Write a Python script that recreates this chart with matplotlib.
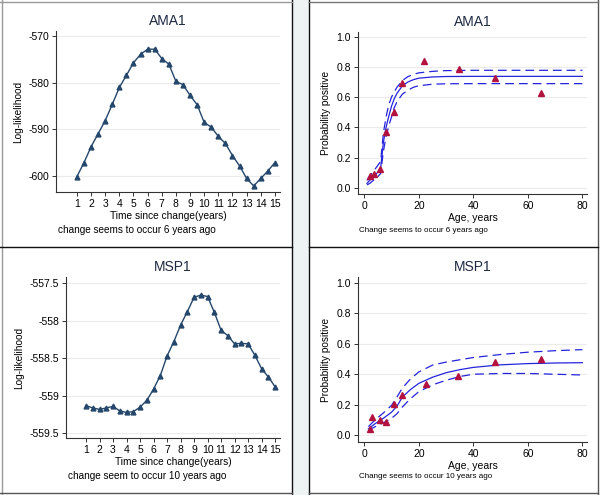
import matplotlib
matplotlib.use("Agg")
from matplotlib import pyplot as plt
from matplotlib.lines import Line2D
from matplotlib.patches import Rectangle

plt.rcParams['font.family'] = ['Liberation Sans', 'DejaVu Sans']

# profile log-likelihood by time since change
years = [1, 1.5, 2, 2.5, 3, 3.5, 4, 4.5, 5, 5.5, 6, 6.5, 7, 7.5, 8, 8.5, 9, 9.5,
         10, 10.5, 11, 11.5, 12, 12.5, 13, 13.5, 14, 14.5, 15]
ll_ama1 = [-600.1, -597.1, -593.7, -590.9, -588.1, -584.6, -581.0, -578.4, -575.7,
           -573.9, -572.8, -572.8, -574.8, -576.0, -579.7, -580.4, -582.7, -584.7,
           -588.5, -589.5, -591.5, -593.0, -595.6, -597.8, -600.5, -602.1, -600.5,
           -598.9, -597.1]
ll_msp1 = [-559.13, -559.16, -559.18, -559.16, -559.14, -559.20, -559.22, -559.21,
           -559.15, -559.06, -558.91, -558.73, -558.47, -558.28, -558.06, -557.88,
           -557.69, -557.66, -557.68, -557.89, -558.13, -558.20, -558.31, -558.30,
           -558.31, -558.46, -558.64, -558.75, -558.88]

# observed seroprevalence by age group
ama1_age = [2.0, 3.4, 5.9, 8.0, 11.0, 13.8, 21.9, 34.9, 47.8, 64.7]
ama1_prev = [0.077, 0.092, 0.127, 0.372, 0.50, 0.694, 0.838, 0.788, 0.726, 0.624]
msp1_age = [2.0, 2.9, 5.8, 8.0, 11.0, 13.8, 22.8, 34.4, 48.0, 64.7]
msp1_prev = [0.037, 0.119, 0.099, 0.088, 0.202, 0.262, 0.334, 0.391, 0.479, 0.503]

# fitted curves with confidence bands
ama1_fit_age = [1, 2, 3, 4, 5, 6, 7, 8, 9, 10, 11, 12, 14, 16, 18, 20, 25, 30, 40, 60, 80]
ama1_fit = [0.03, 0.05, 0.065, 0.085, 0.105, 0.13, 0.30, 0.40, 0.475, 0.54, 0.59,
            0.625, 0.675, 0.70, 0.715, 0.725, 0.733, 0.736, 0.737, 0.737, 0.737]
ama1_hi = [0.05, 0.08, 0.10, 0.125, 0.15, 0.175, 0.36, 0.47, 0.55, 0.60, 0.635,
           0.665, 0.71, 0.735, 0.75, 0.76, 0.77, 0.775, 0.777, 0.777, 0.777]
ama1_lo = [0.02, 0.03, 0.045, 0.06, 0.075, 0.095, 0.24, 0.34, 0.41, 0.47, 0.53,
           0.57, 0.62, 0.645, 0.665, 0.675, 0.685, 0.688, 0.689, 0.689, 0.689]

msp1_fit_age = [1.5, 4, 7, 10, 12, 14, 17, 20, 25, 30, 35, 40, 50, 60, 70, 80]
msp1_fit = [0.04, 0.075, 0.11, 0.15, 0.19, 0.25, 0.30, 0.34, 0.38, 0.41, 0.43,
            0.445, 0.462, 0.47, 0.474, 0.476]
msp1_hi = [0.055, 0.10, 0.145, 0.195, 0.25, 0.31, 0.37, 0.415, 0.46, 0.48, 0.495,
           0.51, 0.53, 0.545, 0.555, 0.562]
msp1_lo = [0.03, 0.055, 0.08, 0.11, 0.14, 0.185, 0.24, 0.285, 0.33, 0.36, 0.385,
           0.40, 0.405, 0.405, 0.40, 0.395]

W, H = 600, 495
navy = '#24476b'
red = '#b3123f'
blue = '#2424dd'
grid = '#ebebeb'

fig = plt.figure(figsize=(6, 4.95), dpi=100)


def box(l, t, r, b):
    # axes rectangle from pixel edges
    return [l / W, 1 - b / H, (r - l) / W, (b - t) / H]


def caption(x, y, s, size):
    fig.text(x / W, 1 - y / H, s, fontsize=size, va='center', ha='left')


def style(ax):
    for s in ['top', 'right']:
        ax.spines[s].set_visible(False)
    for s in ['left', 'bottom']:
        ax.spines[s].set_linewidth(0.8)
        ax.spines[s].set_color('#333333')
    ax.tick_params(length=3, width=0.7, color='#333333', labelsize=7.5, pad=2)
    ax.grid(axis='y', color=grid, linewidth=0.8)
    ax.set_axisbelow(True)


def ll_panel(pos, y, title, yt, ytl, ylim):
    ax = fig.add_axes(pos)
    style(ax)
    ax.plot(years, y, color=navy, lw=1.0, marker='^', ms=3.5)
    ax.set_xticks(range(1, 16))
    ax.set_yticks(yt)
    ax.set_yticklabels(ytl)
    ax.set_xlim(-0.48, 15.36)
    ax.set_ylim(*ylim)
    ax.set_title(title, fontsize=10, color='#1e2a44', pad=4)
    ax.set_ylabel('Log-likelihood', fontsize=7.3, labelpad=4)
    ax.set_xlabel('Time since change(years)', fontsize=7.3, labelpad=1.5)
    return ax


def prev_panel(pos, fa, f, hi, lo, pa, pv, title, ylim):
    ax = fig.add_axes(pos)
    style(ax)
    ax.plot(fa, f, color=blue, lw=0.9)
    ax.plot(fa, hi, color=blue, lw=0.9, dashes=(7, 4))
    ax.plot(fa, lo, color=blue, lw=0.9, dashes=(7, 4))
    ax.plot(pa, pv, linestyle='none', marker='^', ms=5, color=red)
    ax.set_xticks([0, 20, 40, 60, 80])
    ax.set_yticks([0, 0.2, 0.4, 0.6, 0.8, 1.0])
    ax.set_yticklabels(['0.0', '0.2', '0.4', '0.6', '0.8', '1.0'])
    ax.set_xlim(-2.3, 81.7)
    ax.set_ylim(*ylim)
    ax.set_title(title, fontsize=10, color='#1e2a44', pad=4)
    ax.set_ylabel('Probability positive', fontsize=7.3, labelpad=4)
    ax.set_xlabel('Age, years', fontsize=7.5, labelpad=1.5)
    return ax


ll_panel(box(56, 31, 280, 192), ll_ama1, 'AMA1',
         [-570, -580, -590, -600], ['-570', '-580', '-590', '-600'],
         (-603.4, -568.9))
ll_panel(box(66, 277, 280, 438), ll_msp1, 'MSP1',
         [-557.5, -558, -558.5, -559, -559.5],
         ['-557.5', '-558', '-558.5', '-559', '-559.5'],
         (-559.56, -557.42))
prev_panel(box(358, 32, 587, 194), ama1_fit_age, ama1_fit, ama1_hi, ama1_lo,
           ama1_age, ama1_prev, 'AMA1', (-0.04, 1.03))
prev_panel(box(358, 277, 587, 442), msp1_fit_age, msp1_fit, msp1_hi, msp1_lo,
           msp1_age, msp1_prev, 'MSP1', (-0.046, 1.04))

caption(58, 230, 'change seems to occur 6 years ago', 7.2)
caption(68, 476, 'change seem to occur 10 years ago', 7.2)
caption(359, 230, 'Change seems to occur 6 years ago', 5.8)
caption(359, 477, 'Change seems to occur 10 years ago', 5.8)

# panel frames
fig.add_artist(Rectangle((292 / W, 0), 17 / W, 1, transform=fig.transFigure,
                         facecolor='#eef4f4', edgecolor='none'))


def hline(y, x0, x1, c='#111111', lw=1.0):
    fig.add_artist(Line2D([x0 / W, x1 / W], [1 - y / H, 1 - y / H], color=c, lw=lw))


def vline(x, y0, y1, c='#111111', lw=1.0):
    fig.add_artist(Line2D([x / W, x / W], [1 - y0 / H, 1 - y1 / H], color=c, lw=lw))


vline(292, 0, 495)
vline(309, 0, 495)
vline(598, 0, 495, c='#555555')
vline(1.5, 0, 495, c='#999999')
hline(1.5, 0, 292, c='#999999')
hline(1.5, 309, 598, c='#777777')
hline(247, 0, 292)
hline(247, 309, 598)
hline(493, 0, 292, c='#555555')
hline(493, 309, 598, c='#555555')

plt.savefig('out.png', dpi=100)
